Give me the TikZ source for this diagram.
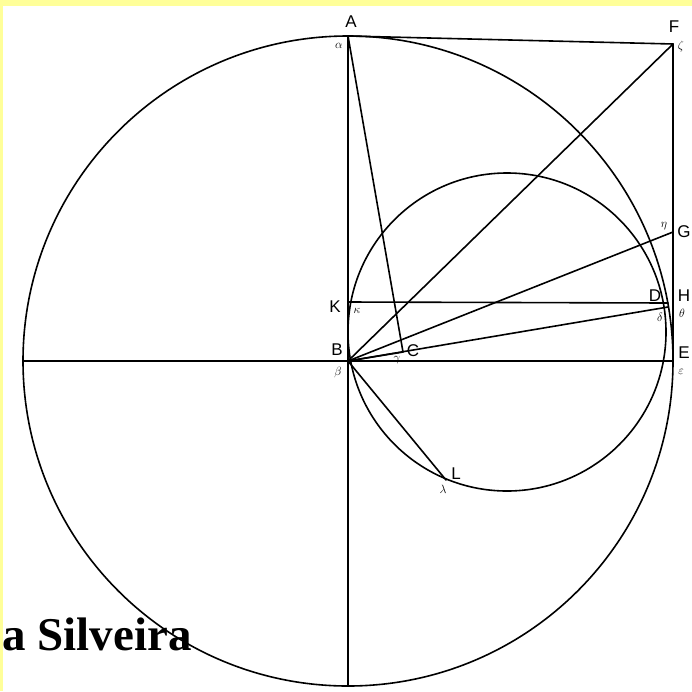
\documentclass[tikz,border=0pt]{standalone}
\usepackage{fontspec}
\setmainfont{Liberation Serif}
\setsansfont{Liberation Sans}
\definecolor{yellowbg}{RGB}{255,255,153}
\begin{document}
\begin{tikzpicture}[x=1pt,y=-1pt,
  geo/.style={line width=1.6pt, black, line cap=round},
  thick geo/.style={line width=2.4pt, black},
  lab/.style={font=\sffamily\fontsize{17}{17}\selectfont, inner sep=0pt},
  glab/.style={font=\fontsize{13}{13}\selectfont, inner sep=0pt},
  title/.style={font=\bfseries\fontsize{47}{47}\selectfont, inner sep=0pt, anchor=base west}]
\fill[yellowbg] (0,0) rectangle (692,691);
\fill[white] (3,6) rectangle (692,691);
\useasboundingbox (0,0) rectangle (692,691);
% points
\coordinate (B) at (348,361);
\coordinate (A) at (348,36);
\coordinate (P) at (348,686);
\coordinate (W) at (23,361);
\coordinate (E) at (673,361);
\coordinate (F) at (673,44);
\coordinate (K) at (348,302);
\coordinate (D) at (668,303);
\coordinate (Dd) at (668,307);
\coordinate (G) at (673,232);
\coordinate (C) at (403,352);
\coordinate (L) at (446,480);
\coordinate (O) at (507,332);
% circles
\draw[geo] (B) circle[radius=325];
\draw[geo] (O) circle[radius=159];
% lines
\draw[geo] (W) -- (E);
\draw[thick geo] (A) -- (P);
\draw[geo] (A) -- (F);
\draw[geo] (F) -- (E);
\draw[geo] (A) -- (C);
\draw[geo] (B) -- (C);
\draw[geo] (B) -- (F);
\draw[geo] (B) -- (G);
\draw[geo] (B) -- (Dd);
\draw[geo] (K) -- (D);
\draw[geo] (B) -- (L);
% labels
\node[lab] (lA) at (351,22) {A};
\node[lab] (lF) at (674,27) {F};
\node[lab] (lK) at (335,307) {K};
\node[lab] (lB) at (337,350) {B};
\node[lab] (lC) at (413,351) {C};
\node[lab] (lD) at (655,296) {D};
\node[lab] (lH) at (684,296) {H};
\node[lab] (lG) at (684,232) {G};
\node[lab] (lE) at (684,353) {E};
\node[lab] (lL) at (456,474) {L};
\node[glab] (gA) at (339,46) {$\alpha$};
\node[glab] (gF) at (681,46) {$\zeta$};
\node[glab] (gK) at (357,311) {$\kappa$};
\node[glab] (gB) at (338,372) {$\beta$};
\node[glab] (gC) at (397,360) {$\gamma$};
\node[glab] (gD) at (660,317) {$\delta$};
\node[glab] (gH) at (682,313) {$\theta$};
\node[glab] (gG) at (664,226) {$\eta$};
\node[glab] (gE) at (681,372) {$\varepsilon$};
\node[glab] (gL) at (443,489) {$\lambda$};
\node[title] (t) at (2,650) {a Silveira};
\end{tikzpicture}
\end{document}
